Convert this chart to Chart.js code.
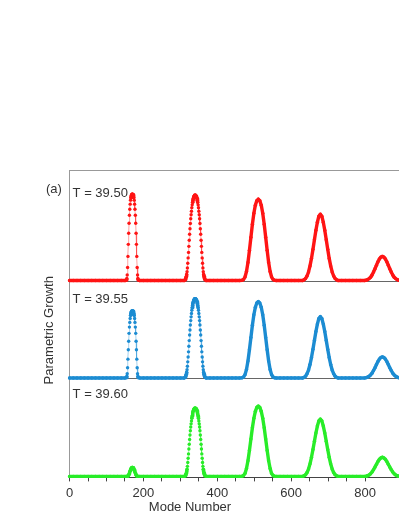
<!DOCTYPE html>
<html>
<head>
<meta charset="utf-8">
<script src="https://cdn.jsdelivr.net/npm/chart.js@4.4.1/dist/chart.umd.min.js"></script>
<style>
  html, body { margin: 0; padding: 0; background: #fff; overflow: hidden; }
  #wrap { width: 399px; height: 516px; }
</style>
</head>
<body>
<div id="wrap"><canvas id="chart-growth"></canvas></div>
<script>
// mode numbers where growth sits on the baseline (0)
var baseModes = [0,10,20,30,40,50,60,70,80,90,100,110,120,130,140,150,
  190,200,210,220,230,240,250,260,270,280,290,300,310,
  370,380,390,400,410,420,430,440,450,460,
  560,570,580,590,600,610,620,
  737,747,757,767,777,787];

// mode numbers sampled across each of the five peaks
var peakModes = [
  [154,155,156,157,158,159,160,161,162,163,164,165,166,167,168,169,170,171,172,173,174,175,176,177,178,179,180,181,182,183,184,185,186],
  [313,314,315,316,317,318,319,320,321,322,323,324,325,326,327,328,329,330,331,332,333,334,335,336,337,338,339,340,341,342,343,344,345,346,347,348,349,350,351,352,353,354,355,356,357,358,359,360,361,362,363,364,365,366,367],
  [467,471,475,479,483,487,491,495,499,503,507,511,515,519,523,527,531,535,539,543,547,551,555],
  [631,635,639,643,647,651,655,659,663,667,671,675,679,683,687,691,695,699,703,707,711,715,719,723,727],
  [799,803,807,811,815,819,823,827,831,835,839,843,847,851,855,859,863,867,871,875,879,883,887,891]
];

// T = 39.50
var redPeaks = [
  [0.4,1.8,5.5,13,24,36,47,57,65,71,76,80,82.5,84.3,85.3,85.8,86,85.8,85.3,84.3,82.5,80,76,71,65,57,47,36,24,13,5.5,1.8,0.4],
  [0.8,1.5,2.5,4,6,8.8,12.5,17.2,22.5,28,34,40,46,51.5,56.7,61.5,65.4,69,72.5,75.3,77.8,80,81.7,83,83.9,84.5,84.9,85,84.9,84.5,83.9,83,81.7,80,77.8,75.3,72.5,69,65.4,61.5,56.7,51.5,46,40,34,28,22.5,17.2,12.5,8.8,6,4,2.5,1.5,0.8],
  [0.2,1,3.5,9,18,30,43,56,67,75,79.5,81,79.5,75,67,56,43,30,18,9,3.5,1,0.2],
  [0,0.7,2,4.5,8.5,14.5,22,31,40.5,50,58,64,66,64,58,50,40.5,31,22,14.5,8.5,4.5,2,0.7,0],
  [0,0.3,0.9,1.9,3.3,5.5,8.4,11.7,15.3,18.7,21.5,23.3,24,23.3,21.5,18.7,15.3,11.7,8.4,5.5,3.3,1.9,0.9,0.3]
];

// T = 39.55
var bluePeaks = [
  [0.3,1.4,4.3,10.1,18.7,28,36.6,44.4,50.6,55.3,59.2,62.3,64.3,65.7,66.4,66.8,67,66.8,66.4,65.7,64.3,62.3,59.2,55.3,50.6,44.4,36.6,28,18.7,10.1,4.3,1.4,0.3],
  [0.7,1.4,2.3,3.7,5.6,8.2,11.6,16,20.9,26,31.6,37.2,42.7,47.8,52.7,57.1,60.8,64.1,67.4,70,72.3,74.3,75.9,77.1,77.9,78.5,78.9,79,78.9,78.5,77.9,77.1,75.9,74.3,72.3,70,67.4,64.1,60.8,57.1,52.7,47.8,42.7,37.2,31.6,26,20.9,16,11.6,8.2,5.6,3.7,2.3,1.4,0.7],
  [0.2,0.9,3.3,8.4,16.9,28.1,40.3,52.5,62.9,70.4,74.6,76,74.6,70.4,62.9,52.5,40.3,28.1,16.9,8.4,3.3,0.9,0.2],
  [0,0.6,1.8,4.2,7.9,13.4,20.3,28.6,37.4,46.2,53.6,59.2,61,59.2,53.6,46.2,37.4,28.6,20.3,13.4,7.9,4.2,1.8,0.6,0],
  [0,0.3,0.8,1.7,2.9,4.8,7.4,10.2,13.4,16.4,18.8,20.4,21,20.4,18.8,16.4,13.4,10.2,7.4,4.8,2.9,1.7,0.8,0.3]
];

// T = 39.60
var greenPeaks = [
  [0,0,0,0.1,0.4,0.8,1.4,2.3,3.3,4.4,5.5,6.5,7.4,8.1,8.6,8.9,9,8.9,8.6,8.1,7.4,6.5,5.5,4.4,3.3,2.3,1.4,0.8,0.4,0.1,0,0,0],
  [0.6,1.2,2,3.2,4.8,7,10,13.8,18,22.4,27.2,32,36.8,41.2,45.4,49.2,52.3,55.2,58,60.2,62.2,64,65.4,66.4,67.1,67.6,67.9,68,67.9,67.6,67.1,66.4,65.4,64,62.2,60.2,58,55.2,52.3,49.2,45.4,41.2,36.8,32,27.2,22.4,18,13.8,10,7,4.8,3.2,2,1.2,0.6],
  [0.2,0.9,3,7.8,15.6,25.9,37.2,48.4,57.9,64.8,68.7,70,68.7,64.8,57.9,48.4,37.2,25.9,15.6,7.8,3,0.9,0.2],
  [0,0.6,1.7,3.9,7.3,12.5,19,26.8,35,43.2,50.1,55.3,57,55.3,50.1,43.2,35,26.8,19,12.5,7.3,3.9,1.7,0.6,0],
  [0,0.2,0.7,1.5,2.6,4.4,6.7,9.3,12.1,14.8,17,18.4,19,18.4,17,14.8,12.1,9.3,6.7,4.4,2.6,1.5,0.7,0.2]
];

var panelLabels = ['T = 39.50', 'T = 39.55', 'T = 39.60'];

function series(peaks) {
  var pts = baseModes.map(function (m) { return {x: m, y: 0}; });
  peaks.forEach(function (vals, i) {
    vals.forEach(function (v, j) { pts.push({x: peakModes[i][j], y: v}); });
  });
  return pts.sort(function (a, b) { return a.x - b.x; });
}

// steep sides of the two narrow peaks are drawn as dots with a faint line
function steep(c) {
  return Math.abs(c.p1.y - c.p0.y) > 2.5 && c.p0.x < c.chart.scales.x.getPixelForValue(400);
}

function dataset(label, peaks, color, faint, axis) {
  return {
    label: label,
    data: series(peaks),
    yAxisID: axis,
    borderColor: color,
    borderWidth: 3.4,
    borderJoinStyle: 'round',
    borderCapStyle: 'round',
    pointRadius: 1.7,
    pointBorderWidth: 0,
    pointBackgroundColor: color,
    clip: false,
    segment: {
      borderWidth: function (c) { return steep(c) ? 1 : 3.4; },
      borderColor: function (c) { return steep(c) ? faint : color; }
    }
  };
}

function panelAxis(top, weight, size, title) {
  return {
    type: 'linear',
    position: 'left',
    stack: 'panels',
    stackWeight: size,
    weight: weight,
    min: -1,
    max: size - 1,
    afterBuildTicks: function (s) {
      s.ticks = top ? [{value: -1}, {value: size - 1}] : [{value: -1}];
    },
    ticks: { display: false },
    grid: {
      drawTicks: false,
      color: function (c) { return c.tick.value < 0 ? '#666' : '#999'; }
    },
    border: { display: true, color: '#999' },
    title: {
      display: !!title,
      text: title || '',
      color: '#333',
      font: { size: 13 },
      padding: { top: 5, bottom: 12 }
    }
  };
}

var labelPlugin = {
  id: 'panelText',
  afterDraw: function (chart) {
    var ctx = chart.ctx;
    var left = chart.chartArea.left;
    var axes = [chart.scales.yR, chart.scales.yB, chart.scales.yG];
    var offs = [27, 21, 19];
    ctx.save();
    ctx.fillStyle = '#333';
    ctx.font = '13px "Liberation Sans", Arial, sans-serif';
    ctx.textBaseline = 'alphabetic';
    ctx.textAlign = 'left';
    panelLabels.forEach(function (t, i) {
      ctx.fillText(t, left + 3, axes[i].top + offs[i]);
    });
    ctx.fillText('(a)', 46, 193);
    ctx.textAlign = 'center';
    ctx.fillText('Mode Number', 190, 511);
    ctx.restore();
  }
};

Chart.defaults.font.family = '"Liberation Sans", Arial, sans-serif';
Chart.defaults.font.size = 13;
Chart.defaults.color = '#333';

var config = {
  type: 'line',
  data: {
    datasets: [
      dataset('T = 39.50', redPeaks, 'rgb(255,20,20)', 'rgba(255,20,20,0.4)', 'yR'),
      dataset('T = 39.55', bluePeaks, 'rgb(28,140,210)', 'rgba(28,140,210,0.4)', 'yB'),
      dataset('T = 39.60', greenPeaks, 'rgb(40,236,40)', 'rgba(40,236,40,0.4)', 'yG')
    ]
  },
  options: {
    responsive: true,
    maintainAspectRatio: false,
    animation: false,
    layout: { autoPadding: false, padding: { top: 170, left: 37, right: 0, bottom: 11 } },
    plugins: { legend: { display: false }, tooltip: { enabled: false } },
    scales: {
      x: {
        type: 'linear',
        min: 0,
        max: 892,
        afterBuildTicks: function (s) {
          s.ticks = s.ticks.filter(function (t) { return t.value % 50 === 0; });
        },
        ticks: {
          stepSize: 50,
          autoSkip: false,
          maxRotation: 0,
          padding: 4,
          color: '#333',
          callback: function (v) { return v % 200 === 0 ? v : ''; }
        },
        grid: { drawOnChartArea: false, tickLength: 4, color: '#444' },
        border: { color: '#444' }
      },
      yR: panelAxis(true, 3, 111, null),
      yB: panelAxis(false, 2, 97, 'Parametric Growth'),
      yG: panelAxis(false, 1, 98, null)
    }
  },
  plugins: [labelPlugin]
};

var ctx = document.getElementById('chart-growth').getContext('2d');
new Chart(ctx, config);
</script>
</body>
</html>
